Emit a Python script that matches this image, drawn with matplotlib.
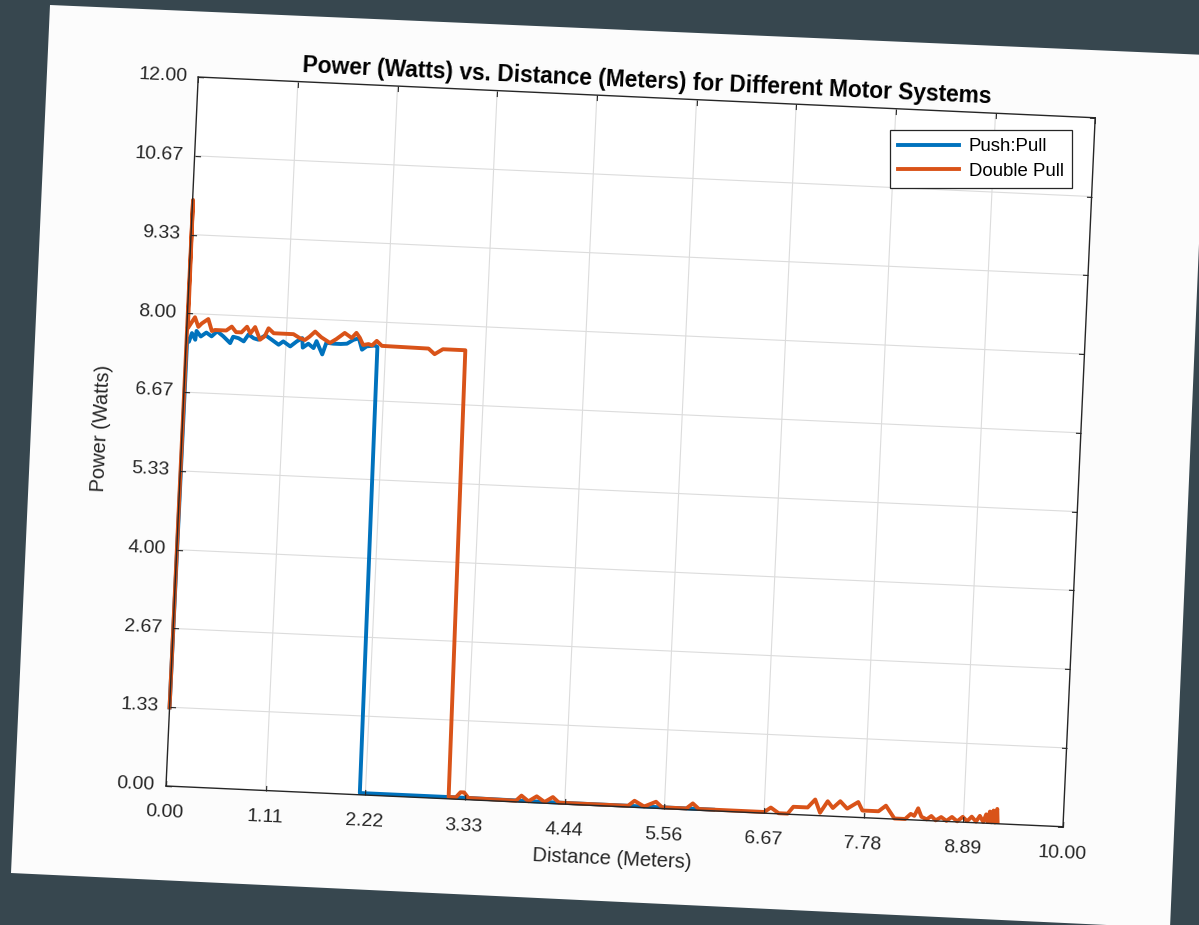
import numpy as np
import matplotlib
matplotlib.use("Agg")
import matplotlib.pyplot as plt
from matplotlib.lines import Line2D
from matplotlib.patches import Polygon
from matplotlib.transforms import Affine2D
from mpl_toolkits.axisartist import floating_axes
from mpl_toolkits.axisartist.grid_finder import FixedLocator, DictFormatter

# values
push_pull_x = [0.00, 0.01, 0.03, 0.06, 0.10, 0.11, 0.16, 0.22, 0.28, 0.34,
               0.41, 0.49, 0.52, 0.58, 0.64, 0.69, 0.75, 0.80, 0.88, 0.95,
               1.03, 1.08, 1.16, 1.23, 1.29, 1.30, 1.36, 1.42, 1.45, 1.52,
               1.56, 1.64, 1.72, 1.79, 1.86, 1.92, 1.96, 2.01, 2.10, 2.13,
               2.16, 3.30, 4.40, 5.50, 6.10]
push_pull_y = [1.33, 7.58, 7.52, 7.67, 7.56, 7.71, 7.62, 7.69, 7.63, 7.72,
               7.64, 7.53, 7.64, 7.62, 7.57, 7.69, 7.63, 7.61, 7.69, 7.62,
               7.54, 7.60, 7.52, 7.61, 7.67, 7.51, 7.58, 7.51, 7.63, 7.41,
               7.61, 7.60, 7.60, 7.61, 7.68, 7.71, 7.52, 7.58, 7.60, 7.58,
               0.03, 0.03, 0.02, 0.02, 0.02]

double_pull_x = [0.00, 0.005, 0.012, 0.086, 0.128, 0.164, 0.235, 0.28, 0.315, 0.44,
                 0.50, 0.55, 0.61, 0.67, 0.71, 0.76, 0.82, 0.87, 0.91, 0.97,
                 1.19, 1.26, 1.32, 1.37, 1.43, 1.50, 1.60, 1.67, 1.76, 1.84,
                 1.89, 1.93, 1.97, 2.03, 2.07, 2.12, 2.18, 2.70, 2.77, 2.86,
                 3.11, 3.15, 3.23, 3.28, 3.32, 3.37, 3.90, 3.96, 4.04, 4.13,
                 4.22, 4.31, 4.38, 5.15, 5.22, 5.33, 5.46, 5.53, 5.80, 5.87,
                 5.94, 6.67, 6.74, 6.83, 6.93, 6.99, 7.15, 7.23, 7.29, 7.37,
                 7.43, 7.51, 7.59, 7.71, 7.76, 7.94, 8.02, 8.12, 8.24, 8.30,
                 8.34, 8.38, 8.42, 8.48, 8.53, 8.58, 8.64, 8.70, 8.76, 8.82,
                 8.88, 8.93, 8.98, 9.03, 9.07, 9.11, 9.14, 9.16, 9.18, 9.20,
                 9.22, 9.24, 9.26, 9.27]
double_pull_y = [1.33, 9.92, 7.75, 7.94, 7.78, 7.84, 7.92, 7.72, 7.74, 7.74,
                 7.81, 7.72, 7.72, 7.82, 7.71, 7.82, 7.61, 7.67, 7.81, 7.73,
                 7.73, 7.67, 7.64, 7.70, 7.79, 7.70, 7.61, 7.68, 7.79, 7.71,
                 7.80, 7.72, 7.60, 7.62, 7.60, 7.68, 7.60, 7.59, 7.50, 7.59,
                 7.59, 0.03, 0.03, 0.12, 0.12, 0.03, 0.02, 0.11, 0.02, 0.11,
                 0.02, 0.11, 0.02, 0.02, 0.11, 0.02, 0.11, 0.02, 0.02, 0.11,
                 0.02, 0.02, 0.10, 0.01, 0.01, 0.13, 0.13, 0.27, 0.05, 0.25,
                 0.14, 0.26, 0.14, 0.26, 0.12, 0.12, 0.22, 0.01, 0.01, 0.10,
                 0.07, 0.20, 0.06, 0.02, 0.08, 0.01, 0.07, 0.01, 0.08, 0.01,
                 0.09, 0.02, 0.10, 0.02, 0.12, 0.02, 0.15, 0.02, 0.20, 0.02,
                 0.22, 0.02, 0.25, 0.03]

series_names = ['Push:Pull', 'Double Pull']
x_tick_labels = ['0.00', '1.11', '2.22', '3.33', '4.44',
                 '5.56', '6.67', '7.78', '8.89', '10.00']
y_tick_labels = ['0.00', '1.33', '2.67', '4.00', '5.33',
                 '6.67', '8.00', '9.33', '10.67', '12.00']
title = 'Power (Watts) vs. Distance (Meters) for Different Motor Systems'

W, H = 1199, 925
BG = '#37474f'
BLUE = '#0072bd'
ORANGE = '#d95319'
DARK = '#262626'
LW = 2.8

plt.rcParams['font.family'] = ['Liberation Sans', 'DejaVu Sans']

fig = plt.figure(figsize=(W / 100, H / 100), dpi=100)
fig.patch.set_facecolor(BG)

# the sheet of paper in the photo, corners in image pixels
paper_px = [(50, 5), (1207, 55), (1170, 928), (11, 873)]
paper = Polygon([(x / W, 1 - y / H) for x, y in paper_px], closed=True,
                transform=fig.transFigure, facecolor='#fcfcfc',
                edgecolor='none', zorder=-1)
fig.add_artist(paper)

# the plot is tilted in the photo: rotated axes via axisartist
tilt = -2.6
x_max, y_max = 10, 12
tr = Affine2D().scale(897.9 / x_max, 709.7 / y_max).rotate_deg(tilt)

x_ticks = np.linspace(0, x_max, len(x_tick_labels))
y_ticks = np.linspace(0, y_max, len(y_tick_labels))
gh = floating_axes.GridHelperCurveLinear(
    tr, extremes=(0, x_max, 0, y_max),
    grid_locator1=FixedLocator(list(x_ticks)),
    grid_locator2=FixedLocator(list(y_ticks)),
    tick_formatter1=DictFormatter(dict(zip(x_ticks, x_tick_labels))),
    tick_formatter2=DictFormatter(dict(zip(y_ticks, y_tick_labels))))

corners = tr.transform([(0, 0), (x_max, 0), (x_max, y_max), (0, y_max)])
lo, hi = corners.min(axis=0), corners.max(axis=0)
size = hi - lo
left = 166 + lo[0]            # plot origin sits at (166, 786) in the photo
bottom = (H - 786) + lo[1]
pad = 0.01 * size             # FloatingAxes pads its limits by 2 %
rect = [(left - pad[0]) / W, (bottom - pad[1]) / H,
        1.02 * size[0] / W, 1.02 * size[1] / H]

ax = fig.add_axes(rect, axes_class=floating_axes.FloatingAxes, grid_helper=gh)
aux = ax.get_aux_axes(tr)

ax.grid(True, color='#dcdcdc', linewidth=0.8)
ax.axis[:].line.set_color(DARK)
ax.axis[:].line.set_linewidth(1.0)
ax.axis[:].major_ticks.set_ticksize(4)
ax.axis[:].major_ticks.set_color(DARK)
ax.axis[:].major_ticklabels.set_fontsize(14)
ax.axis[:].major_ticklabels.set_color(DARK)
ax.axis["top"].toggle(ticklabels=False, label=False)
ax.axis["right"].toggle(ticklabels=False, label=False)
ax.axis["bottom"].major_ticklabels.set_pad(13)
ax.axis["left"].major_ticklabels.set_pad(8)

ax.axis["bottom"].label.set_text('Distance (Meters)')
ax.axis["left"].label.set_text('Power (Watts)')
ax.axis["bottom"].label.set_pad(9)
ax.axis["left"].label.set_pad(8)
for side in ("bottom", "left"):
    ax.axis[side].label.set_fontsize(14.5)
    ax.axis[side].label.set_color(DARK)

aux.plot(push_pull_x, push_pull_y, color=BLUE, lw=LW)
aux.plot(double_pull_x, double_pull_y, color=ORANGE, lw=LW)

aux.text(x_max / 2, y_max * 1.0135, title, rotation=tilt, rotation_mode='anchor',
         ha='center', va='baseline', fontsize=16.4, fontweight='bold', color='black')

handles = [Line2D([], [], color=BLUE, lw=LW), Line2D([], [], color=ORANGE, lw=LW)]
leg = fig.legend(handles, series_names, loc='upper right',
                 bbox_to_anchor=(1072 / W, 1 - 130 / H), borderaxespad=0,
                 fancybox=False, edgecolor=DARK, framealpha=1, fontsize=13.4,
                 handlelength=3.3, borderpad=0.45, labelspacing=0.38,
                 handletextpad=0.5)
leg.get_frame().set_linewidth(0.9)

fig.savefig('out.png', dpi=100, facecolor=BG)
